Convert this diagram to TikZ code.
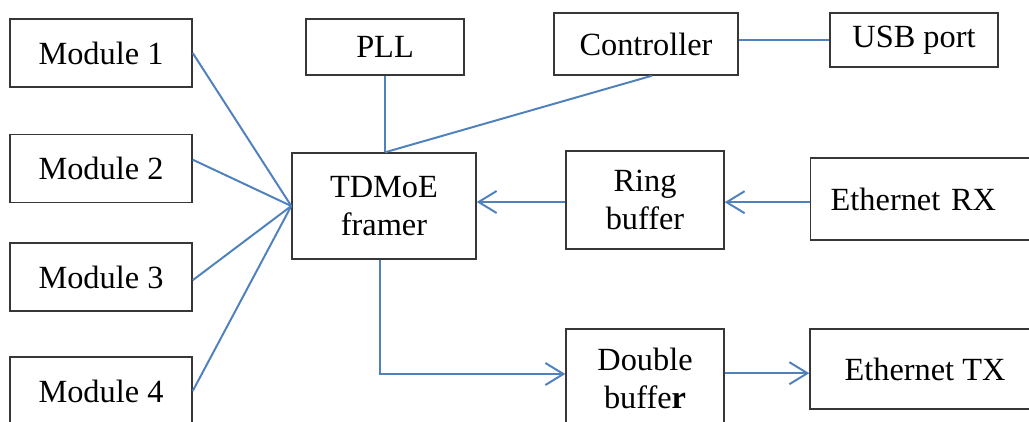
\documentclass[tikz,border=0pt]{standalone}
\usepackage{fontspec}
\setmainfont{Liberation Serif}
\usetikzlibrary{arrows.meta}
\definecolor{linkblue}{RGB}{79,129,189}
\definecolor{boxgray}{RGB}{55,55,55}
\begin{document}
\begin{tikzpicture} [x=0.025cm,y=-0.025cm,
        box/.style={rectangle,draw=boxgray,line width=1pt,inner sep=0pt,align=center,font=\fontsize{23}{27}\selectfont},
        link/.style={color=linkblue,line width=1.4pt},
        flow/.style={link,-{Straight Barb[length=0.45cm,width=0.55cm,line width=1.4pt]}}]
\useasboundingbox (0,0) rectangle (1029,421);
\clip (0,0) rectangle (1029,421);
%modules
        \node[box,minimum width=4.55cm,minimum height=1.7cm] (m1) at (101,53) {Module 1};
        \node[box,minimum width=4.55cm,minimum height=1.7cm] (m2) at (101,168.5) {Module 2};
        \node[box,minimum width=4.55cm,minimum height=1.7cm] (m3) at (101,277) {Module 3};
        \node[box,minimum width=4.55cm,minimum height=1.7cm] (m4) at (101,391) {Module 4};

%framer
        \node[box,minimum width=4.6cm,minimum height=2.65cm] (tdm) at (384,206) {TDMoE\\framer};
        \node[box,minimum width=3.95cm,minimum height=1.4cm] (pll) at (385,47) {PLL};
        \node[box,minimum width=4.6cm,minimum height=1.55cm] (ctl) at (646,44) {Controller};
        \node[box,minimum width=4.2cm,minimum height=1.35cm] (usb) at (914,40) {USB port};

%buffers
        \node[box,minimum width=3.95cm,minimum height=2.45cm] (ring) at (645,200) {Ring\\buffer};
        \node[box,minimum width=3.95cm,minimum height=2.45cm] (dbl) at (645,378) {Double\\buffe\textbf{r}};
        \node[box,anchor=west,inner xsep=0.5cm,text width=5.25cm,align=left,minimum height=2.05cm] (ethrx) at (810,199) {Ethernet RX};
        \node[box,minimum width=5.75cm,minimum height=2.0cm] (ethtx) at (925,369) {Ethernet TX};

        \draw [ link ] (m1.east) -- (tdm.west);
        \draw [ link ] ([yshift=0.22cm]m2.east) -- (tdm.west);
        \draw [ link ] ([yshift=-0.08cm]m3.east) -- (tdm.west);
        \draw [ link ] (m4.east) -- (tdm.west);
        \draw [ link ] (pll.south) -- (pll.south |- tdm.north);
        \draw [ link ] (pll.south |- tdm.north) -- ([xshift=0.15cm]ctl.south);
        \draw [ link ] (usb.west -| ctl.east) -- (usb.west);

        \draw [ flow ] ([yshift=-0.08cm]ethrx.west) -- ([yshift=-0.08cm]ethrx.west -| ring.east);
        \draw [ flow ] ([yshift=-0.05cm]ring.west) -- ([yshift=-0.05cm]ring.west -| tdm.east);
        \draw [ flow ] ([xshift=-0.1cm]tdm.south) |- ([yshift=0.1cm]dbl.west);
        \draw [ flow ] ([yshift=0.12cm]dbl.east) -- ([yshift=0.12cm]dbl.east -| ethtx.west);
    \end{tikzpicture}
\end{document}
